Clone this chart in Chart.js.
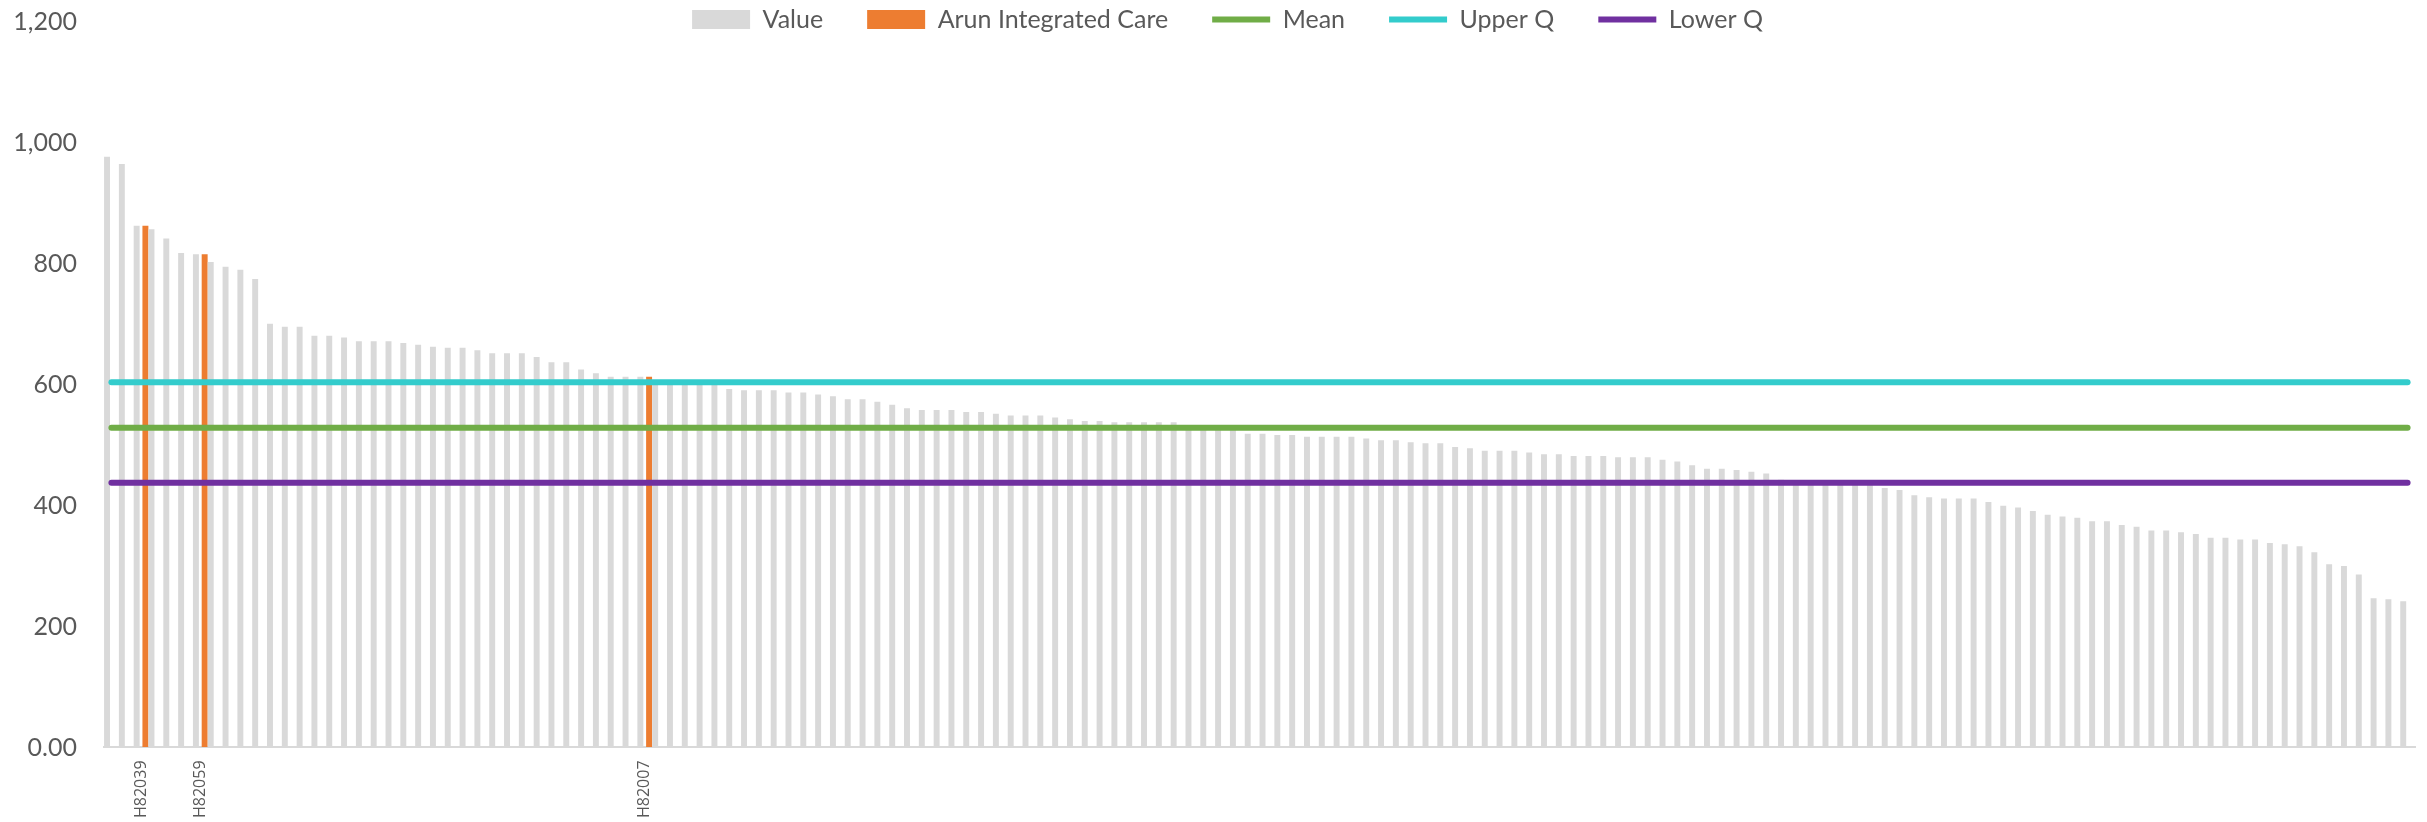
<!DOCTYPE html>
<html>
<head>
<meta charset="utf-8">
<title>Practice values</title>
<script src="https://cdn.jsdelivr.net/npm/chart.js@4.4.1/dist/chart.umd.min.js"></script>
<style>
  html, body { margin: 0; padding: 0; background: #fff; }
  #wrap { position: relative; width: 2427px; height: 822px; }
</style>
</head>
<body>
<div id="wrap"><canvas id="practice-chart"></canvas></div>
<script>
///////////////////////Data//////////////////////////
// one value per practice, sorted high to low
const practiceValues = [
  977, 965, 863, 857, 842, 818, 816, 803, 795, 790,
  775, 701, 696, 696, 681, 681, 678, 672, 672, 672,
  669, 666, 663, 661, 661, 657, 652, 652, 652, 646,
  637, 637, 625, 619, 613, 613, 613, 608, 607, 606,
  605, 603, 593, 591, 591, 591, 587, 587, 584, 581,
  576, 576, 572, 567, 561, 558, 558, 558, 555, 555,
  552, 549, 549, 549, 546, 543, 540, 540, 538, 538,
  538, 538, 538, 533, 531, 528, 525, 519, 519, 517,
  517, 514, 514, 514, 514, 511, 508, 508, 505, 503,
  503, 497, 495, 491, 491, 491, 488, 485, 485, 482,
  482, 482, 480, 480, 480, 476, 473, 467, 461, 461,
  459, 456, 453, 443, 442, 441, 440, 439, 438, 436,
  429, 426, 417, 414, 412, 412, 412, 406, 400, 397,
  391, 385, 382, 380, 374, 374, 368, 365, 359, 359,
  356, 353, 347, 347, 344, 344, 338, 336, 333, 323,
  303, 300, 286, 247, 245, 242
];

// Arun Integrated Care practices (position in the sorted list + code)
const highlightIndex = [2, 6, 36];
const highlightCodes = ['H82039', 'H82059', 'H82007'];

// reference lines
const meanValue = 529;
const upperQValue = 604;
const lowerQValue = 438;

// y axis labels, bottom to top
const yTickLabels = ['0.00', '200', '400', '600', '800', '1,000', '1,200'];

//Wraps the chart so it runs once the page is ready
document.addEventListener('DOMContentLoaded', () => {

const canvas = document.getElementById('practice-chart');

// only the highlighted practices get a label
const categories = practiceValues.map((v, i) => {
  const k = highlightIndex.indexOf(i);
  return k >= 0 ? highlightCodes[k] : '';
});
const arunValues = practiceValues.map((v, i) => highlightIndex.includes(i) ? v : null);

const textColor = '#595959';
const noColour = 'rgba(0,0,0,0)';

function refLine(label, value, colour) {
  return {
    type: 'line',
    label: label,
    data: categories.map(() => value),
    borderColor: colour,
    backgroundColor: colour,
    borderWidth: 6,
    borderCapStyle: 'round',
    pointRadius: 0,
    pointHoverRadius: 0,
    pointStyle: 'line',
    pointBorderWidth: 6,
    order: 0
  };
}

// legend sits on the same row as the 1,200 label, so don't clip it to its box
// (and nudge it right a little to line up with the original)
const legendNoClip = {
  id: 'legendNoClip',
  beforeDraw(chart) {
    const legend = chart.legend;
    if (!legend || legend._noClip) return;
    legend._noClip = true;
    legend.draw = function () {
      if (!this.options.display) return;
      this.ctx.save();
      this.ctx.translate(20, 0);
      this._draw();
      this.ctx.restore();
    };
  }
};

const chartData = {
  labels: categories,
  datasets: [{
    label: 'Value',
    data: practiceValues,
    backgroundColor: '#d9d9d9',
    borderWidth: 0,
    pointStyle: 'rect',
    categoryPercentage: 1.18,
    barPercentage: 0.68,
    order: 1
  }, {
    label: 'Arun Integrated Care',
    data: arunValues,
    backgroundColor: '#ed7d31',
    borderWidth: 0,
    pointStyle: 'rect',
    categoryPercentage: 1.18,
    barPercentage: 0.68,
    order: 1
  },
  refLine('Mean', meanValue, '#70ad47'),
  refLine('Upper Q', upperQValue, '#33cccc'),
  refLine('Lower Q', lowerQValue, '#7030a0')
  ]
};

const chartOptions = {
  responsive: true,
  maintainAspectRatio: false,
  animation: false,
  layout: {
    padding: { top: -37, left: 0, right: 12, bottom: 4 }
  },
  plugins: {
    legend: {
      position: 'top',
      maxHeight: 59,
      labels: {
        usePointStyle: true,
        pointStyleWidth: 58,
        boxHeight: 19,
        padding: 44,
        color: textColor,
        font: { family: 'Lato', size: 25 },
        sort: (a, b) => a.datasetIndex - b.datasetIndex
      }
    },
    tooltip: { enabled: false }
  },
  scales: {
    x: {
      offset: true,
      // invisible tick marks give the gap under the axis
      grid: { display: true, drawOnChartArea: false, drawTicks: true, tickLength: 13, color: noColour },
      border: { display: true, color: '#d9d9d9', width: 2 },
      ticks: {
        autoSkip: false,
        maxRotation: 90,
        minRotation: 90,
        padding: 0,
        color: textColor,
        font: { family: 'Open Sans', size: 16 }
      }
    },
    y: {
      min: 0,
      max: 1200,
      grid: { display: true, drawOnChartArea: false, drawTicks: true, tickLength: 27, color: noColour },
      border: { display: false },
      ticks: {
        stepSize: 200,
        padding: 0,
        color: textColor,
        font: { family: 'Lato', size: 25 },
        callback: (value, index) => yTickLabels[index]
      },
      afterFit: scale => { scale.width = 104; }
    }
  }
};

let practiceChart = new Chart(canvas, {
  type: 'bar',
  data: chartData,
  options: chartOptions,
  plugins: [legendNoClip]
});

//End of wrap
});
</script>
</body>
</html>
